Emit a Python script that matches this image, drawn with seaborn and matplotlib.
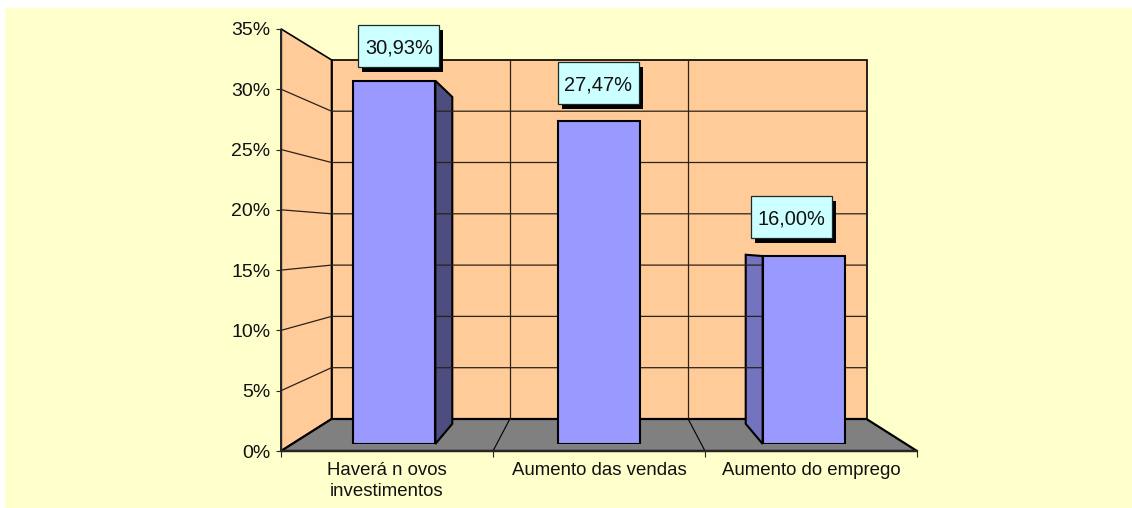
import matplotlib
matplotlib.use("Agg")
import matplotlib.pyplot as plt
from matplotlib.patches import Polygon, Rectangle
import seaborn as sns

sns.set_style("white")
plt.rcParams["font.family"] = ["Liberation Sans", "DejaVu Sans"]

# --- Data ---
categories = ["Haverá n ovos\ninvestimentos", "Aumento das vendas", "Aumento do emprego"]
values = [30.93, 27.47, 16.00]
y_ticks = [0, 5, 10, 15, 20, 25, 30, 35]

# --- Colours ---
bg_color = "#FFFFCC"
wall_color = "#FFCC99"
floor_color = "#808080"
bar_color = "#9999FF"
side_right = "#4D4D80"
side_left = "#7373BF"
label_color = "#CCFFFF"

W, H = 1132, 508
BAR_W = 0.4
S_FRONT, S_BACK = 0.22, 0.85  # depth of the bar faces, 0 = front of floor, 1 = back wall
label_offsets = [(4.5, 35), (-1, 38), (-12.5, 39)]  # label box centre from bar top, px
BOX_W, BOX_H = 81, 42


def project(pos, val, s):
    # fake 3D: category position, value and depth to pixels
    half = 318 - 50.5 * s
    x = 599 + half * (pos - 1) / 1.5
    y = (451 - 32 * s) - val * (12.06 - 1.8 * s ** 1.15)
    return x, y


def plane_axes(s, zorder):
    # axes lying on the plane at depth s, same scales as the category/value axes
    x0, y0 = project(-0.5, 0, s)
    x1, y1 = project(2.5, 35, s)
    ax = fig.add_axes([x0 / W, 1 - y0 / H, (x1 - x0) / W, (y0 - y1) / H], zorder=zorder)
    ax.patch.set_visible(False)
    ax.set_xlim(-0.5, 2.5)
    ax.set_ylim(0, 35)
    return ax


def pixel_axes(zorder):
    pax = fig.add_axes([0, 0, 1, 1], zorder=zorder)
    pax.set_xlim(0, W)
    pax.set_ylim(H, 0)
    pax.axis("off")
    return pax


fig = plt.figure(figsize=(W / 100, H / 100), dpi=100, facecolor="white")

# --- Walls, floor, grid, bar sides (drawn in pixels) ---
bg = pixel_axes(0)
bg.add_patch(Rectangle((5, 8), W - 5, H - 8, color=bg_color, lw=0))


def poly(corners, face, lw=1.0):
    bg.add_patch(Polygon([project(*c) for c in corners], closed=True, facecolor=face,
                         edgecolor="black", linewidth=lw, joinstyle="miter"))


top = y_ticks[-1]
poly([(-0.5, 0, 1), (2.5, 0, 1), (2.5, top, 1), (-0.5, top, 1)], wall_color, 1.2)  # back wall
poly([(-0.5, 0, 0), (-0.5, 0, 1), (-0.5, top, 1), (-0.5, top, 0)], wall_color, 1.2)  # side wall

for v in y_ticks[1:-1]:
    xs, ys = zip(project(-0.5, v, 0), project(-0.5, v, 1), project(2.5, v, 1))
    bg.plot(xs, ys, color="#2b2218", lw=0.9)
for p in [0.5, 1.5]:
    xs, ys = zip(project(p, 0, 1), project(p, top, 1))
    bg.plot(xs, ys, color="#2b2218", lw=0.9)

poly([(-0.5, 0, 0), (2.5, 0, 0), (2.5, 0, 1), (-0.5, 0, 1)], floor_color, 1.6)  # floor
for p in [0.5, 1.5]:
    xs, ys = zip(project(p, 0, 0), project(p, 0, 1))
    bg.plot(xs, ys, color="black", lw=0.8)

# side faces: the left bar shows its right side, the right bar its left side
for i, v in enumerate(values):
    edge = None
    if i == 0:
        edge, face = i + BAR_W / 2, side_right
    elif i == 2:
        edge, face = i - BAR_W / 2, side_left
    if edge is not None:
        poly([(edge, 0, S_FRONT), (edge, 0, S_BACK), (edge, v, S_BACK), (edge, v, S_FRONT)], face, 1.5)

# --- Front axes: ticks and tick labels ---
front = plane_axes(0, 1)
sns.despine(ax=front)
front.spines["left"].set_linewidth(1.0)
front.spines["bottom"].set_linewidth(1.6)
front.set_yticks(y_ticks)
front.set_yticklabels([f"{t}%" for t in y_ticks], fontsize=14, color="#111111")
front.tick_params(axis="y", direction="out", length=3.6, width=0.8, left=True, pad=4)
front.set_xticks([-0.5, 0.5, 1.5, 2.5])
front.set_xticklabels([])
front.set_xticks(range(len(categories)), labels=categories, minor=True)
front.tick_params(axis="x", which="major", direction="out", length=4.5, width=0.8, bottom=True)
front.tick_params(axis="x", which="minor", length=0, pad=8, labelsize=13.4, labelcolor="#111111")
for lab in front.get_xticklabels(minor=True):
    lab.set_linespacing(1.28)

# --- Bars: front faces ---
ax = plane_axes(S_FRONT, 2)
sns.barplot(x=categories, y=values, width=BAR_W, color=bar_color, saturation=1,
            edgecolor="black", linewidth=1.5, ax=ax)
ax.set_xlim(-0.5, 2.5)
ax.set_ylim(0, 35)
ax.axis("off")

# --- Value labels with drop shadow ---
over = pixel_axes(3)
for i, v in enumerate(values):
    bx, by = project(i, v, S_FRONT)
    cx, cy = bx + label_offsets[i][0], by - label_offsets[i][1]
    over.add_patch(Rectangle((cx - BOX_W / 2 + 4, cy - BOX_H / 2 + 5), BOX_W, BOX_H, color="black", lw=0))
    over.add_patch(Rectangle((cx - BOX_W / 2, cy - BOX_H / 2), BOX_W, BOX_H, facecolor=label_color,
                             edgecolor="#1a2a2a", linewidth=0.9))
    over.text(cx, cy, f"{v:.2f}%".replace(".", ","), ha="center", va="center_baseline",
              fontsize=14.4, color="#111111")

fig.savefig("out.png", dpi=100, facecolor=fig.get_facecolor())
